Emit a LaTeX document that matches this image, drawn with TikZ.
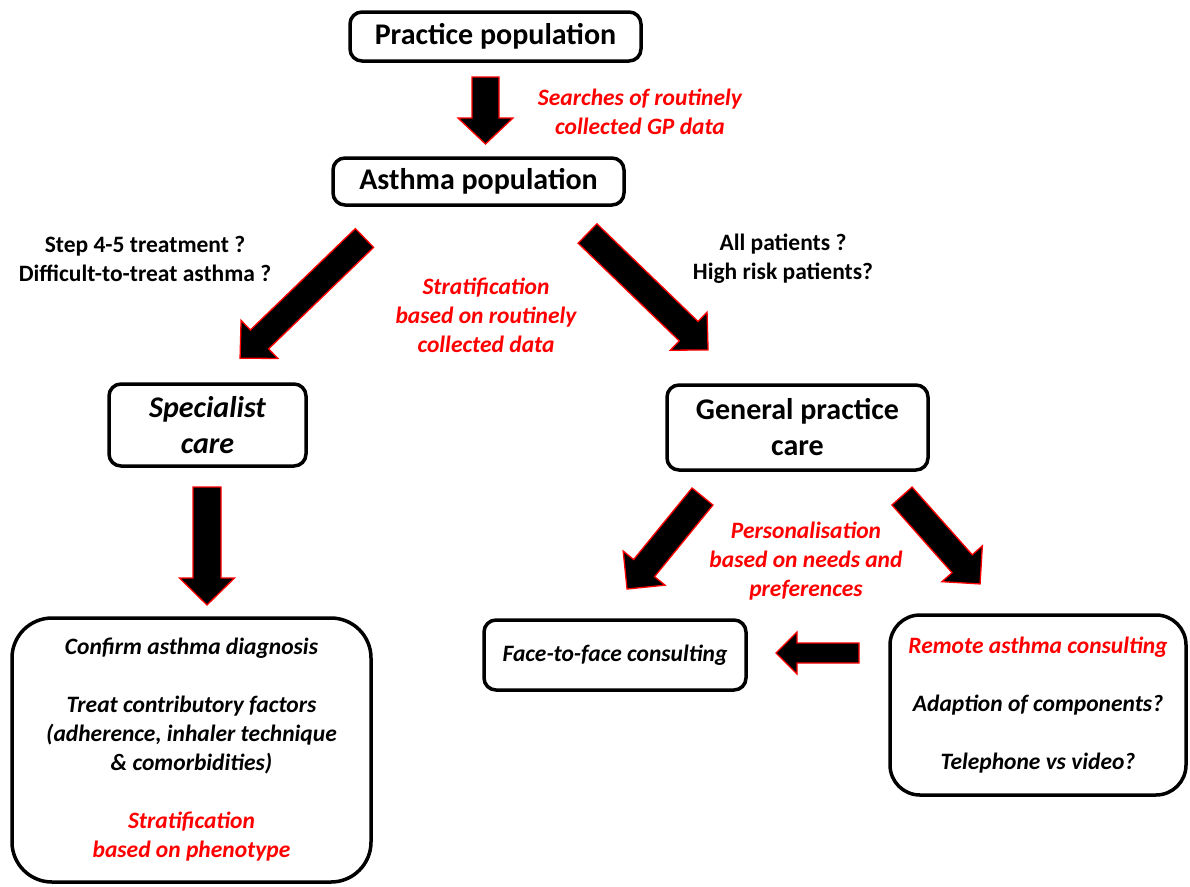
\documentclass[tikz,border=0pt]{standalone}
\usepackage{fontspec}
\setmainfont{Carlito}
\tikzset{
 box/.style={draw=black, line width=3.5pt, rounded corners=12pt, fill=white, align=center,
   font=\fontsize{30}{36}\selectfont\bfseries, inner sep=0pt},
 lab/.style={align=center, font=\fontsize{23.5}{29}\selectfont\bfseries, inner sep=0pt},
 redlab/.style={align=center, text=red, font=\fontsize{23.5}{29}\selectfont\bfseries\itshape, inner sep=0pt},
 blockarrow/.style={fill=black, draw=red, line width=1.3pt, line join=miter},
}
% x y angle length shafthalf headhalf headlength
\newcommand\blockarr[7]{%
 \begin{scope}[shift={(#1,#2)}, rotate=#3]
 \filldraw[blockarrow] (0,-#5) -- ({#4-#7},-#5) -- ({#4-#7},-#6) -- (#4,0) -- ({#4-#7},#6) -- ({#4-#7},#5) -- (0,#5) -- cycle;
 \end{scope}}
\begin{document}
\begin{tikzpicture}[x=1pt,y=-1pt]
\useasboundingbox (0,0) rectangle (1190,886);

\node[box, minimum width=291pt, minimum height=49pt] (pp) at (495.5,36.5) {Practice population};
\node[box, minimum width=291pt, minimum height=47pt] (ap) at (478.5,181.5) {Asthma population};
\node[box, minimum width=197pt, minimum height=82pt, font=\fontsize{30}{36}\selectfont\bfseries\itshape] (sc) at (207.5,425) {Specialist\\care};
\node[box, minimum width=261pt, minimum height=85pt] (gp) at (797.5,427.5) {General practice\\care};
\node[box, rounded corners=40pt, minimum width=359pt, minimum height=264pt,
  font=\fontsize{23.5}{29}\selectfont\bfseries\itshape] (big) at (191.5,750)
  {Confirm asthma diagnosis\\[29pt]Treat contributory factors\\(adherence, inhaler technique\\\& comorbidities)\\[29pt]\textcolor{red}{Stratification}\\\textcolor{red}{based on phenotype}};
\node[box, minimum width=262pt, minimum height=70pt, font=\fontsize{23.5}{29}\selectfont\bfseries\itshape] (ff) at (615,655) {Face-to-face consulting};
\node[box, rounded corners=30pt, minimum width=296pt, minimum height=180pt,
  font=\fontsize{23.5}{29}\selectfont\bfseries\itshape] (rm) at (1038,705)
  {\textcolor{red}{Remote asthma consulting}\\[29pt]Adaption of components?\\[29pt]Telephone vs video?};

\node[redlab] (l1) at (640,111.5) {Searches of routinely\\collected GP data};
\node[lab] (l2) at (145,258.5) {Step 4-5 treatment ?\\Difficult-to-treat asthma ?};
\node[redlab] (l3) at (486,315) {Stratification\\based on routinely\\collected data};
\node[lab] (l4) at (783,258.5) {All patients ?\\High risk patients?};
\node[redlab] (l5) at (806,561) {Personalisation\\based on needs and\\preferences};

\blockarr{485.5}{77}{-90}{67}{13.5}{27.5}{26}
\blockarr{364.5}{238}{-136}{173}{13.1}{26.5}{27}
\blockarr{587.5}{233.5}{-44}{167.6}{13.5}{26.5}{27}
\blockarr{207}{487}{-90}{118}{14}{27.5}{27}
\blockarr{702.5}{496.5}{-129.2}{119.4}{13.5}{27}{27}
\blockarr{902}{496}{-48.4}{117.6}{13.5}{27}{27}
\blockarr{859}{653}{180}{83}{10}{21}{21}
\end{tikzpicture}
\end{document}
